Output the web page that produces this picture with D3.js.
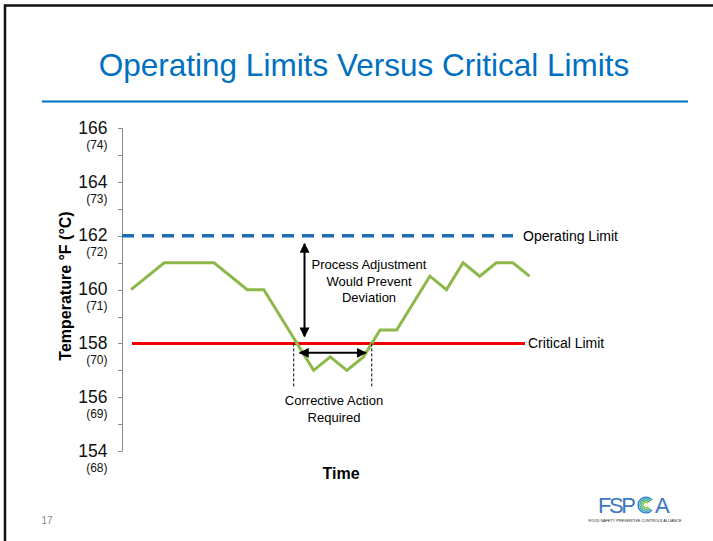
<!DOCTYPE html>
<html>
<head>
<meta charset="utf-8">
<script src="https://cdn.jsdelivr.net/npm/d3@7"></script>
<style>
  body { margin: 0; background: #fff; }
  svg { display: block; font-family: "Liberation Sans", Arial, sans-serif; }
</style>
</head>
<body>
<svg id="graph" width="713" height="541"></svg>
<script>
// temperature readings, x = time step
var timeSteps = [0, 2, 5, 7, 8, 10, 11, 12, 13, 14, 15, 16, 18, 19, 20, 21, 22, 23, 24]
var tempF     = [160, 161, 161, 160, 160, 158, 157, 157.5, 157, 157.5, 158.5, 158.5, 160.5, 160, 161, 160.5, 161, 161, 160.5]

var fTicks = [154, 156, 158, 160, 162, 164, 166]
var cTicks = ["(68)", "(69)", "(70)", "(71)", "(72)", "(73)", "(74)"]
var minorTicks = [155, 157, 159, 161, 163, 165]

var operatingLimit = 162
var criticalLimit = 158
var crossSteps = [9.8, 14.5]   // where the line crosses the critical limit

var svg = d3.select("#graph")

// slide frame
svg.append("path")
    .attr("d", "M5,541 V5.5 H713")
    .attr("fill", "none")
    .attr("stroke", "#111")
    .attr("stroke-width", 2.5)

svg.append("text")
    .attr("x", 364).attr("y", 76)
    .attr("text-anchor", "middle")
    .attr("font-size", 31.5)
    .attr("fill", "#0070c0")
    .text("Operating Limits Versus Critical Limits")

svg.append("line")
    .attr("x1", 42).attr("x2", 688)
    .attr("y1", 101.5).attr("y2", 101.5)
    .attr("stroke", "#0070c0").attr("stroke-width", 2)

var x = d3.scaleLinear().domain([0, 24]).range([131, 529.5])
var y = d3.scaleLinear().domain([154, 166]).range([451, 128.3])

// y axis
var axis = svg.append("g").attr("transform", "translate(122.5,0)")
axis.append("line")
    .attr("y1", y(166)).attr("y2", y(154))
    .attr("stroke", "#8c8c8c")
axis.selectAll(".tk")
    .data(fTicks.concat(minorTicks))
    .enter().append("line")
    .attr("x1", -4.5).attr("x2", 0)
    .attr("y1", d => Math.round(y(d)) + 0.5)
    .attr("y2", d => Math.round(y(d)) + 0.5)
    .attr("stroke", "#8c8c8c")
axis.selectAll(".fl")
    .data(fTicks)
    .enter().append("text")
    .attr("x", -15).attr("y", d => y(d) + 5.5)
    .attr("text-anchor", "end")
    .attr("font-size", 17.5)
    .attr("fill", "#111")
    .text(d => d)
axis.selectAll(".cl")
    .data(cTicks)
    .enter().append("text")
    .attr("x", -15).attr("y", (d, i) => y(fTicks[i]) + 20.5)
    .attr("text-anchor", "end")
    .attr("font-size", 12)
    .attr("fill", "#111")
    .text(d => d)

svg.append("text")
    .attr("transform", "translate(71,286) rotate(-90)")
    .attr("text-anchor", "middle")
    .attr("font-size", 16)
    .attr("font-weight", "bold")
    .text("Temperature °F (°C)")

svg.append("text")
    .attr("x", 341).attr("y", 479)
    .attr("text-anchor", "middle")
    .attr("font-size", 16)
    .attr("font-weight", "bold")
    .text("Time")

// limits
svg.append("line")
    .attr("x1", 122).attr("x2", 513)
    .attr("y1", y(operatingLimit)).attr("y2", y(operatingLimit))
    .attr("stroke", "#1f6db3").attr("stroke-width", 3.5)
    .attr("stroke-dasharray", "12,8")
svg.append("text")
    .attr("x", 523).attr("y", y(operatingLimit) + 5)
    .attr("font-size", 14)
    .text("Operating Limit")

svg.append("line")
    .attr("x1", 132).attr("x2", 525)
    .attr("y1", y(criticalLimit)).attr("y2", y(criticalLimit))
    .attr("stroke", "#f00000").attr("stroke-width", 3)
svg.append("text")
    .attr("x", 528).attr("y", y(criticalLimit) + 5)
    .attr("font-size", 14)
    .text("Critical Limit")

// temperature line
var line = d3.line()
    .x(d => x(d[0]))
    .y(d => y(d[1]))
svg.append("path")
    .datum(d3.zip(timeSteps, tempF))
    .attr("d", line)
    .attr("fill", "none")
    .attr("stroke", "#8db84a")
    .attr("stroke-width", 3)
    .attr("stroke-linejoin", "miter")

// arrows
var defs = svg.append("defs")
defs.append("marker")
    .attr("id", "head")
    .attr("viewBox", "0 0 10 10")
    .attr("refX", 9).attr("refY", 5)
    .attr("markerWidth", 10).attr("markerHeight", 10)
    .attr("markerUnits", "userSpaceOnUse")
    .attr("orient", "auto-start-reverse")
    .append("path")
    .attr("d", "M0,0 L10,5 L0,10 Z")
    .attr("fill", "#000")

var ax = x(10.45)
svg.append("line")
    .attr("x1", ax).attr("x2", ax)
    .attr("y1", y(operatingLimit) + 8).attr("y2", y(criticalLimit) - 7)
    .attr("stroke", "#000").attr("stroke-width", 2)
    .attr("marker-start", "url(#head)")
    .attr("marker-end", "url(#head)")

svg.append("line")
    .attr("x1", x(crossSteps[0]) + 6).attr("x2", x(crossSteps[1]) - 6)
    .attr("y1", y(157.65)).attr("y2", y(157.65))
    .attr("stroke", "#000").attr("stroke-width", 2)
    .attr("marker-start", "url(#head)")
    .attr("marker-end", "url(#head)")

svg.selectAll(".cross")
    .data(crossSteps)
    .enter().append("line")
    .attr("x1", d => x(d)).attr("x2", d => x(d))
    .attr("y1", y(criticalLimit)).attr("y2", 387)
    .attr("stroke", "#000").attr("stroke-width", 1)
    .attr("stroke-dasharray", "3,2")

var note1 = svg.append("text")
    .attr("text-anchor", "middle")
    .attr("font-size", 13)
for (const [i, t] of ["Process Adjustment", "Would Prevent", "Deviation"].entries())
    note1.append("tspan").attr("x", 369).attr("y", 269 + i * 16.7).text(t)

var note2 = svg.append("text")
    .attr("text-anchor", "middle")
    .attr("font-size", 13)
for (const [i, t] of ["Corrective Action", "Required"].entries())
    note2.append("tspan").attr("x", 334).attr("y", 405 + i * 16.5).text(t)

svg.append("text")
    .attr("x", 47).attr("y", 524)
    .attr("text-anchor", "middle")
    .attr("font-size", 10)
    .attr("fill", "#888")
    .text("17")

// FSPCA logo
var logo = svg.append("g").attr("transform", "translate(598,513)")
logo.append("text")
    .attr("x", 0).attr("y", 0)
    .attr("font-size", 22)
    .attr("fill", "#3b78c0")
    .attr("textLength", 38)
    .text("FSP")
var rings = ["#2f7fcf", "#35a6b0", "#5bbb6a", "#8cc63f"]
rings.forEach((c, i) => {
    logo.append("path")
        .attr("d", d3.arc()({ innerRadius: 7.2 - i * 1.7, outerRadius: 8.6 - i * 1.7,
                              startAngle: Math.PI / 2 + 0.7, endAngle: Math.PI / 2 + 2 * Math.PI - 0.7 }))
        .attr("transform", "translate(48,-8)")
        .attr("fill", c)
})
logo.append("text")
    .attr("x", 57).attr("y", 0)
    .attr("font-size", 22)
    .attr("fill", "#3b78c0")
    .text("A")
logo.append("text")
    .attr("x", 37).attr("y", 9)
    .attr("text-anchor", "middle")
    .attr("font-size", 3.8)
    .attr("fill", "#222")
    .text("FOOD SAFETY PREVENTIVE CONTROLS ALLIANCE")
</script>
</body>
</html>
